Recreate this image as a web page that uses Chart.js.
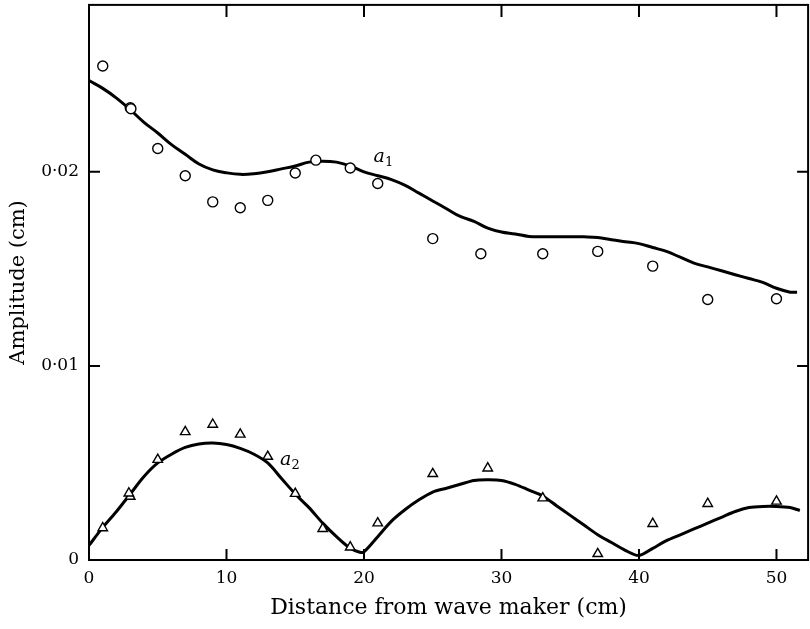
<!DOCTYPE html>
<html lang="en">
<head>
    <meta charset="UTF-8">
    <title>Amplitude vs distance from wave maker</title>
    <script src="https://cdn.jsdelivr.net/npm/chart.js"></script>
    <style>
        html, body { margin: 0; padding: 0; background: #fff; overflow: hidden; }
        #wrap { width: 810px; height: 629px; overflow: hidden; position: relative; }
        #ampChart { position: absolute; left: 0; top: -2px; }
    </style>
</head>
<body>
    <div id="wrap"><canvas id="ampChart" width="815" height="631"></canvas></div>

    <script>
        // measured points, first harmonic (circles)
        const a1X = [1, 3, 3.05, 5, 7, 9, 11, 13, 15, 16.5, 19, 21, 25, 28.5, 33, 37, 41, 45, 50];
        const a1Y = [0.02545, 0.0233, 0.02325, 0.0212, 0.0198, 0.01845, 0.01815, 0.01853, 0.01994, 0.0206, 0.0202, 0.0194,
                     0.01656, 0.01578, 0.01578, 0.0159, 0.01514, 0.01342, 0.01346];

        // measured points, second harmonic (triangles)
        const a2X = [1, 3, 2.9, 5, 7, 9, 11, 13, 15, 17, 19, 21, 25, 29, 33, 37, 41, 45, 50];
        const a2Y = [0.00165, 0.00327, 0.00344, 0.00517, 0.0066, 0.00698, 0.00647, 0.00533, 0.00342, 0.00161, 0.00066, 0.0019,
                     0.00444, 0.00473, 0.00319, 0.00032, 0.00187, 0.0029, 0.00302];

        // theory curve a1
        const fit1X = [0, 1, 2, 3, 4, 5, 6, 7, 8, 9, 10, 11, 12, 13, 14, 15, 16, 17, 18, 19, 20, 21, 22, 23, 24, 25,
                       26, 27, 28, 29, 30, 31, 32, 33, 34, 35, 36, 37, 38, 39, 40, 41, 42, 43, 44, 45, 46, 47, 48, 49, 50, 51, 51.5];
        const fit1Y = [0.0247, 0.0243, 0.0238, 0.0232, 0.02255, 0.0220, 0.0214, 0.0209, 0.0204, 0.0201, 0.01995, 0.01987,
                       0.0199, 0.0200, 0.02015, 0.0203, 0.0205, 0.02055, 0.0205, 0.0203, 0.0200, 0.0198, 0.0196, 0.0193,
                       0.0189, 0.0185, 0.0181, 0.0177, 0.01745, 0.0171, 0.0169, 0.0168, 0.01667, 0.01665, 0.01665, 0.01665,
                       0.01665, 0.01662, 0.0165, 0.0164, 0.0163, 0.0161, 0.0159, 0.0156, 0.0153, 0.0151, 0.0149, 0.0147,
                       0.0145, 0.0143, 0.0140, 0.0138, 0.0138];

        // theory curve a2
        const fit2X = [0, 1, 2, 3, 4, 5, 6, 7, 8, 9, 10, 11, 12, 13, 14, 15, 16, 17, 18, 19, 19.7, 20, 21, 22, 23, 24, 25,
                       26, 27, 28, 29, 30, 31, 32, 33, 34, 35, 36, 37, 38, 39, 40, 41, 42, 43, 44, 45, 46, 47, 48, 49, 50, 51, 51.7];
        const fit2Y = [0.00075, 0.00168, 0.0025, 0.0034, 0.0043, 0.0050, 0.00545, 0.0058, 0.00598, 0.00603, 0.00595, 0.00575,
                       0.00545, 0.0050, 0.0042, 0.0034, 0.0027, 0.0019, 0.0012, 0.0006, 0.0004, 0.00042, 0.0012, 0.0020,
                       0.0026, 0.0031, 0.0035, 0.0037, 0.0039, 0.0041, 0.00413, 0.0041, 0.0039, 0.0036, 0.0033, 0.0028,
                       0.0023, 0.0018, 0.0013, 0.0009, 0.0005, 0.00023, 0.0006, 0.001, 0.0013, 0.0016, 0.0019, 0.0022,
                       0.0025, 0.0027, 0.00276, 0.00276, 0.0027, 0.00255];

        const xTicks = [0, 10, 20, 30, 40, 50];
        const yTicks = [0, 0.01, 0.02];
        const xTitle = 'Distance from wave maker (cm)';
        const yTitle = 'Amplitude (cm)';

        const serif = '"DejaVu Serif", "Liberation Serif", serif';

        function pts(xs, ys) {
            return xs.map((x, i) => ({ x: x, y: ys[i] }));
        }

        // frame + inward ticks on every side, and the a1 / a2 labels
        const framePlugin = {
            id: 'frame',
            afterDraw(chart) {
                const ctx = chart.ctx;
                const a = chart.chartArea;
                const xs = chart.scales.x, ys = chart.scales.y;
                ctx.save();
                ctx.strokeStyle = '#000';
                ctx.lineWidth = 2;
                ctx.strokeRect(a.left, a.top, a.right - a.left, a.bottom - a.top);
                ctx.beginPath();
                xTicks.forEach(v => {
                    const px = xs.getPixelForValue(v);
                    ctx.moveTo(px, a.bottom); ctx.lineTo(px, a.bottom - 11);
                    ctx.moveTo(px, a.top); ctx.lineTo(px, a.top + 12);
                });
                yTicks.forEach(v => {
                    const py = ys.getPixelForValue(v);
                    ctx.moveTo(a.left, py); ctx.lineTo(a.left + 11, py);
                    ctx.moveTo(a.right, py); ctx.lineTo(a.right - 11, py);
                });
                ctx.stroke();

                // curve labels
                const labels = [
                    { x: 20.7, y: 0.0205, sub: '1' },
                    { x: 13.9, y: 0.00492, sub: '2' }
                ];
                ctx.fillStyle = '#000';
                ctx.textBaseline = 'alphabetic';
                labels.forEach(l => {
                    const px = xs.getPixelForValue(l.x);
                    const py = ys.getPixelForValue(l.y);
                    ctx.font = 'italic 19px ' + serif;
                    ctx.fillText('a', px, py);
                    const w = ctx.measureText('a').width;
                    ctx.font = '13px ' + serif;
                    ctx.fillText(l.sub, px + w, py + 4);
                });
                ctx.restore();
            }
        };

        const ctx = document.getElementById('ampChart').getContext('2d');
        new Chart(ctx, {
            type: 'scatter',
            data: {
                datasets: [
                    { label: 'a1 theory', type: 'line', data: pts(fit1X, fit1Y), borderColor: '#000', borderWidth: 3,
                      pointRadius: 0, tension: 0.4, fill: false, order: 2 },
                    { label: 'a2 theory', type: 'line', data: pts(fit2X, fit2Y), borderColor: '#000', borderWidth: 3,
                      pointRadius: 0, tension: 0.3, fill: false, order: 2 },
                    { label: 'a1', data: pts(a1X, a1Y), pointStyle: 'circle', pointRadius: 5,
                      borderColor: '#000', borderWidth: 1.4, backgroundColor: '#fff', order: 1 },
                    { label: 'a2', data: pts(a2X, a2Y), pointStyle: 'triangle', pointRadius: 5.5,
                      borderColor: '#000', borderWidth: 1.4, backgroundColor: '#fff', order: 1 }
                ]
            },
            options: {
                responsive: false,
                animation: false,
                layout: { padding: { left: 2, right: 2, top: 3, bottom: 4 } },
                plugins: { legend: { display: false }, tooltip: { enabled: false } },
                scales: {
                    x: {
                        type: 'linear', min: 0, max: 52.3,
                        grid: { display: false, drawTicks: false },
                        border: { display: false },
                        afterBuildTicks: s => { s.ticks = xTicks.map(v => ({ value: v })); },
                        afterFit: s => { s.height = 65; s.paddingLeft = 0; s.paddingRight = 0; },
                        ticks: { color: '#000', padding: 8, maxRotation: 0, font: { family: serif, size: 17 } },
                        title: { display: true, text: xTitle, color: '#000', padding: { top: 4 },
                                 font: { family: serif, size: 22 } }
                    },
                    y: {
                        type: 'linear', min: 0, max: 0.0286,
                        grid: { display: false, drawTicks: false },
                        border: { display: false },
                        afterBuildTicks: s => { s.ticks = yTicks.map(v => ({ value: v })); },
                        afterFit: s => { s.width = 87; s.paddingTop = 0; s.paddingBottom = 0; },
                        ticks: { color: '#000', padding: 10, font: { family: serif, size: 17 },
                                 callback: v => String(v).replace('.', '·') },
                        title: { display: true, text: yTitle, color: '#000', padding: { bottom: 0, top: 4 },
                                 font: { family: serif, size: 21 } }
                    }
                }
            },
            plugins: [framePlugin]
        });
    </script>
</body>
</html>
